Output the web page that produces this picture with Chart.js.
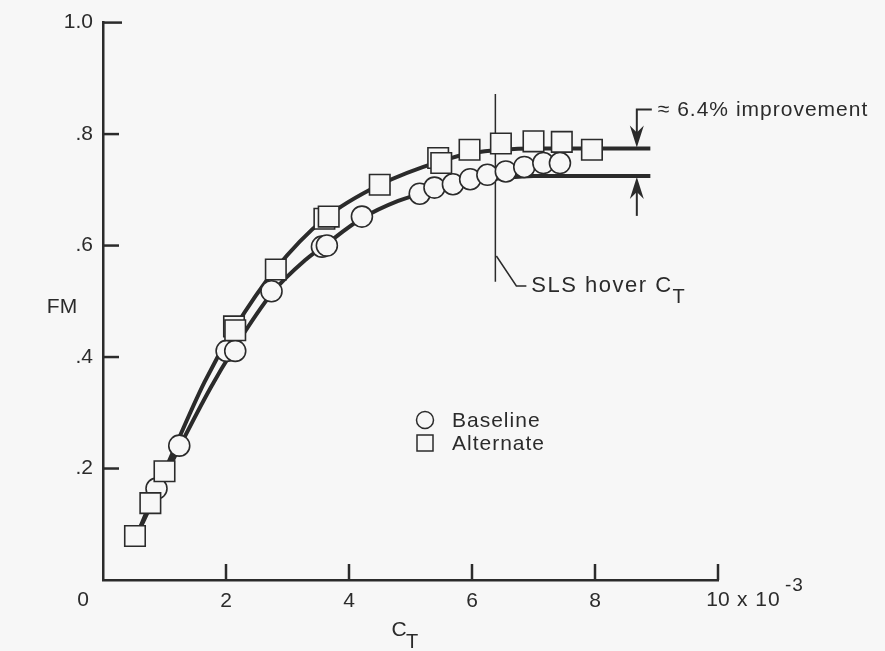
<!DOCTYPE html>
<html>
<head>
<meta charset="utf-8">
<script src="https://cdn.jsdelivr.net/npm/chart.js@4/dist/chart.umd.min.js"></script>
<style>
  html, body { margin: 0; padding: 0; background: #f7f7f7; }
  #wrap { width: 885px; height: 651px; }
</style>
</head>
<body>
<div id="wrap"><canvas id="fmChart" width="885" height="651"></canvas></div>
<script>
// measured points, C_T in units of 1e-3
const baselineCT = [0.87, 1.24, 2.01, 2.15, 2.74, 3.56, 3.64, 4.21, 5.15, 5.39, 5.69, 5.97, 6.25, 6.55, 6.85, 7.16, 7.43];
const baselineFM = [0.164, 0.241, 0.411, 0.411, 0.518, 0.598, 0.600, 0.652, 0.693, 0.704, 0.710, 0.719, 0.727, 0.733, 0.741, 0.748, 0.748];
const alternateCT = [0.52, 0.77, 1.00, 2.13, 2.15, 2.81, 3.60, 3.67, 4.50, 5.45, 5.50, 5.96, 6.47, 7.00, 7.46, 7.95];
const alternateFM = [0.079, 0.138, 0.195, 0.455, 0.448, 0.557, 0.648, 0.652, 0.709, 0.757, 0.748, 0.772, 0.783, 0.787, 0.786, 0.772];

// faired curves
const baselineFitCT = [0.55, 0.87, 1.25, 1.75, 2.10, 2.75, 3.30, 3.60, 4.20, 4.80, 5.40, 6.00, 6.50, 7.00, 8.90];
const baselineFitFM = [0.080, 0.155, 0.240, 0.345, 0.410, 0.515, 0.575, 0.600, 0.648, 0.680, 0.700, 0.714, 0.721, 0.725, 0.725];
const alternateFitCT = [0.55, 0.77, 1.00, 1.65, 2.13, 2.80, 3.60, 4.50, 5.50, 6.00, 6.50, 7.00, 8.90];
const alternateFitFM = [0.080, 0.138, 0.195, 0.355, 0.450, 0.557, 0.648, 0.709, 0.752, 0.766, 0.772, 0.774, 0.774];

const xTicks = [0, 2, 4, 6, 8, 10];
const yTicks = [0, 0.2, 0.4, 0.6, 0.8, 1.0];

// annotations
const slsCT = 6.38;
const slsFM = [0.535, 0.872];
const arrowCT = 8.68;

const ink = '#2b2b2b';
const bg = '#f7f7f7';
const font = '"Liberation Sans", Arial, sans-serif';

function pts(xs, ys) { return xs.map((x, i) => ({ x: x, y: ys[i] })); }

function arrowHead(c, x, tipY, dir) {
  // dir = 1 points down, -1 points up
  c.beginPath();
  c.moveTo(x, tipY);
  c.lineTo(x - 7, tipY - dir * 22);
  c.lineTo(x, tipY - dir * 15);
  c.lineTo(x + 7, tipY - dir * 22);
  c.closePath();
  c.fill();
}

const annotations = {
  id: 'annotations',
  afterDraw(chart) {
    const c = chart.ctx, xs = chart.scales.x, ys = chart.scales.y;
    const left = xs.left, bottom = ys.bottom;
    c.save();
    c.strokeStyle = ink;
    c.fillStyle = ink;
    c.lineWidth = 2.5;
    // ticks point inward
    xTicks.slice(1).forEach(v => {
      const px = xs.getPixelForValue(v);
      c.beginPath(); c.moveTo(px, bottom); c.lineTo(px, bottom - 16); c.stroke();
    });
    yTicks.slice(1).forEach(v => {
      const py = ys.getPixelForValue(v);
      c.beginPath(); c.moveTo(left, py); c.lineTo(left + (v === 1 ? 19 : 16), py); c.stroke();
    });

    c.font = '21px ' + font;
    c.textBaseline = 'middle';
    c.textAlign = 'center';
    c.fillText('0', left - 20, bottom + 20);
    const x10 = xs.getPixelForValue(10);
    c.fillText('10', x10, bottom + 20);
    c.textAlign = 'left';
    c.letterSpacing = '1px';
    c.fillText('x 10', x10 + 19, bottom + 20);
    c.font = '19px ' + font;
    c.fillText('-3', x10 + 67, bottom + 6);

    // axis titles
    c.font = '21px ' + font;
    c.textAlign = 'center';
    c.letterSpacing = '0px';
    c.fillText('FM', 62, ys.getPixelForValue(0.49));
    c.fillText('C', 399, 630);
    c.font = '20px ' + font;
    c.fillText('T', 412, 642);

    // SLS hover label
    const sx = xs.getPixelForValue(slsCT);
    const sy = 286;
    c.lineWidth = 1.5;
    c.beginPath(); c.moveTo(sx + 1, sy - 30); c.lineTo(sx + 21, sy); c.lineTo(sx + 31, sy); c.stroke();
    c.font = '22px ' + font;
    c.textAlign = 'left';
    c.letterSpacing = '1.5px';
    const slsText = 'SLS hover C';
    c.fillText(slsText, sx + 36, sy);
    const slsW = c.measureText(slsText).width;
    c.font = '20px ' + font;
    c.letterSpacing = '0px';
    c.fillText('T', sx + 36 + slsW, sy + 11);

    // improvement arrows
    const ax = xs.getPixelForValue(arrowCT);
    const topTip = ys.getPixelForValue(alternateFitFM[alternateFitFM.length - 1]) - 1;
    const botTip = ys.getPixelForValue(baselineFitFM[baselineFitFM.length - 1]) + 1;
    c.lineWidth = 2;
    c.beginPath(); c.moveTo(ax + 15, topTip - 38); c.lineTo(ax, topTip - 38); c.lineTo(ax, topTip - 12); c.stroke();
    c.beginPath(); c.moveTo(ax, botTip + 39); c.lineTo(ax, botTip + 12); c.stroke();
    arrowHead(c, ax, topTip, 1);
    arrowHead(c, ax, botTip, -1);
    c.font = '21px ' + font;
    c.letterSpacing = '1px';
    c.fillText('\u2248 6.4% improvement', ax + 21, topTip - 37);

    // legend
    c.lineWidth = 1.5;
    c.beginPath(); c.arc(425, 420, 8.5, 0, Math.PI * 2); c.stroke();
    c.strokeRect(417, 435, 16, 16);
    c.fillText('Baseline', 452, 421);
    c.fillText('Alternate', 452, 444);
    c.restore();
  }
};

new Chart(document.getElementById('fmChart'), {
  type: 'scatter',
  data: {
    datasets: [
      { type: 'line', data: pts(baselineFitCT, baselineFitFM), borderColor: ink, borderWidth: 4, pointRadius: 0, cubicInterpolationMode: 'monotone', order: 3 },
      { type: 'line', data: pts(alternateFitCT, alternateFitFM), borderColor: ink, borderWidth: 4, pointRadius: 0, cubicInterpolationMode: 'monotone', order: 3 },
      { type: 'line', data: [{ x: slsCT, y: slsFM[0] }, { x: slsCT, y: slsFM[1] }], borderColor: ink, borderWidth: 1.5, pointRadius: 0, order: 4 },
      { label: 'Baseline', data: pts(baselineCT, baselineFM), pointStyle: 'circle', pointRadius: 10.5, borderColor: ink, borderWidth: 1.6, backgroundColor: bg, order: 1 },
      { label: 'Alternate', data: pts(alternateCT, alternateFM), pointStyle: 'rect', pointRadius: 14.5, borderColor: ink, borderWidth: 1.6, backgroundColor: bg, order: 0 }
    ]
  },
  options: {
    responsive: false,
    animation: false,
    layout: { padding: { top: 20, right: 167, left: 0, bottom: 0 } },
    plugins: { legend: { display: false }, tooltip: { enabled: false } },
    scales: {
      x: {
        type: 'linear', min: 0, max: 10,
        afterBuildTicks: s => { s.ticks = xTicks.map(v => ({ value: v })); },
        afterFit: s => { s.height = 71; },
        grid: { display: false, drawTicks: false },
        border: { display: true, color: ink, width: 2.5 },
        ticks: { padding: 9, color: ink, font: { family: font, size: 21 }, maxRotation: 0,
          callback: v => (v === 0 || v === 10) ? '' : String(v) }
      },
      y: {
        type: 'linear', min: 0, max: 1,
        afterBuildTicks: s => { s.ticks = yTicks.map(v => ({ value: v })); },
        afterFit: s => { s.width = 103; },
        grid: { display: false, drawTicks: false },
        border: { display: true, color: ink, width: 2.5 },
        ticks: { padding: 10, color: ink, font: { family: font, size: 21 },
          callback: v => { const t = Math.round(v * 10); return t === 0 ? '' : (t === 10 ? '1.0' : '.' + t); } }
      }
    }
  },
  plugins: [annotations]
});
</script>
</body>
</html>
